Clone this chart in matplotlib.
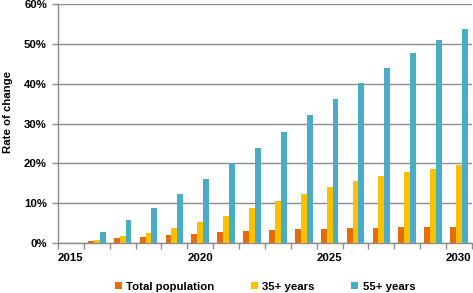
import matplotlib
matplotlib.use("Agg")
import matplotlib.pyplot as plt
import numpy as np

plt.rcParams['font.family'] = ['Liberation Sans', 'DejaVu Sans']

years = list(range(2015, 2031))
total_pop = [0, 0.6, 1.2, 1.6, 2.0, 2.3, 2.8, 3.1, 3.3, 3.5, 3.6, 3.7, 3.8, 3.9, 4.0, 4.0]
age35 = [0, 0.8, 1.8, 2.6, 3.8, 5.3, 6.8, 8.7, 10.5, 12.4, 14.1, 15.6, 16.8, 17.8, 18.7, 19.5]
age55 = [0, 2.7, 5.7, 8.8, 12.3, 16.0, 20.0, 23.9, 27.9, 32.2, 36.2, 40.1, 44.0, 47.7, 50.9, 53.8]
series_names = ["Total population", "35+ years", "55+ years"]
colors = ["#E46C0A", "#FFC000", "#4BACC6"]

fs = 8.2
fig = plt.figure(figsize=(4.73, 2.93), dpi=100)
ax = fig.add_axes([0.1226, 0.1706, 0.875, 0.815])

x = np.arange(len(years))
w = 0.227
for i, (vals, name, c) in enumerate(zip([total_pop, age35, age55], series_names, colors)):
    ax.bar(x + (i - 1) * w, vals, width=w, color=c, label=name, zorder=3)

ax.set_xlim(-0.5, len(years) - 0.5)
ax.set_ylim(0, 60)
ax.set_yticks(range(0, 61, 10))
ax.set_yticklabels([f"{v}%" for v in range(0, 61, 10)])
ax.yaxis.grid(True, color="#8c8c8c", linewidth=1.0, zorder=0)

lab_idx = [i for i, y in enumerate(years) if y % 5 == 0]
ax.set_xticks(lab_idx)
ax.set_xticklabels([str(years[i]) for i in lab_idx])
ax.set_xticks(np.arange(-0.5, len(years), 1.0), minor=True)
ax.tick_params(axis="x", which="major", length=0, pad=7, labelsize=fs)
ax.tick_params(axis="x", which="minor", length=4, color="#8c8c8c", width=1)
ax.tick_params(axis="y", length=4, color="#8c8c8c", width=1, labelsize=fs, pad=4, direction="out")

for s in ["top", "right"]:
    ax.spines[s].set_visible(False)
for s in ["left", "bottom"]:
    ax.spines[s].set_color("#8c8c8c")
    ax.spines[s].set_linewidth(1)

for t in ax.get_xticklabels() + ax.get_yticklabels():
    t.set_fontweight("bold")

ax.set_ylabel("Rate of change", fontsize=fs, fontweight="bold")
ax.yaxis.set_label_coords(-0.108, 0.55)

leg = ax.legend(loc="center", bbox_to_anchor=(0.5, -0.183), ncol=3, frameon=False,
                handlelength=0.6, handleheight=0.6, handletextpad=0.4,
                columnspacing=3.2, prop={"weight": "bold", "size": fs})

fig.savefig("out.png", dpi=100)
